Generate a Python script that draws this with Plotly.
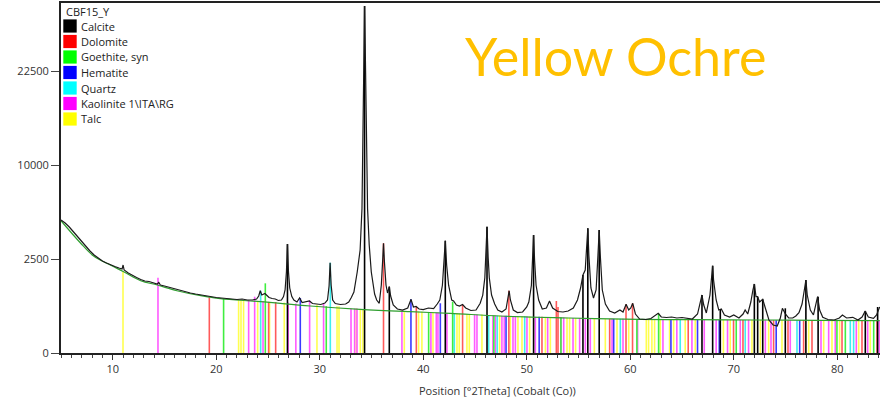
import numpy as np
import plotly.graph_objects as go

# ---------------- data (2theta in degrees, intensity in counts) ----------------
PATTERN = [(5.0,5005),(5.4,4781),(5.8,4492),(6.2,4142),(6.6,3807),(7.0,3486),(7.4,3209),(7.8,2944),
(8.2,2717),(8.6,2553),(9.0,2395),(9.4,2292),(9.8,2191),(10.2,2117),(10.6,2044),(10.9,1996),(11.0,2191),
(11.1,1949),(11.5,1811),(11.9,1699),(12.3,1613),(12.7,1528),(13.1,1467),(13.5,1446),(13.9,1386),(14.3,1347),
(14.45,1406),(14.6,1308),(15.0,1270),(15.5,1214),(16.0,1159),(16.5,1105),(17.0,1070),(17.5,1019),(18.0,985),
(18.5,952),(19.0,919),(19.5,887),(20.0,872),(20.5,856),(21.0,840),(21.5,825),(22.0,810),(22.5,825),(23.0,795),
(23.5,795),(23.9,825),(24.1,919),(24.25,1098),(24.4,952),(24.55,968),(24.7,1002),(24.85,952),(25.1,872),
(25.4,840),(25.7,825),(26.0,780),(26.3,795),(26.5,903),(26.65,1123),(26.78,1856),(26.88,3361),(26.98,1856),
(27.1,1195),(27.3,903),(27.5,795),(27.8,736),(28.05,856),(28.3,722),(28.6,736),(29.0,765),(29.3,693),
(29.7,679),(30.1,666),(30.5,707),(30.75,795),(30.9,1270),(31.0,2307),(31.1,1308),(31.25,795),(31.5,693),
(32.0,666),(32.5,679),(32.8,736),(33.05,870),(33.3,1050),(33.62,1856),(33.9,3000),(34.08,5900),(34.18,14500),
(34.27,27000),(34.33,34067),(34.39,27000),(34.5,14500),(34.62,5900),(34.78,3300),(34.98,1856),(35.3,985),
(35.5,795),(35.75,700),(35.95,1308),(36.08,2447),(36.16,3405),(36.25,2343),(36.4,1308),(36.55,1019),
(36.72,1244),(36.85,919),(37.1,652),(37.5,548),(38.0,523),(38.5,573),(38.82,816),(39.05,599),(39.3,612),
(39.6,548),(40.0,535),(40.5,573),(41.0,560),(41.35,679),(41.6,795),(41.85,1300),(42.0,2191),(42.13,3568),
(42.26,2191),(42.45,1300),(42.75,795),(42.93,765),(43.2,652),(43.5,625),(43.8,666),(44.1,573),(44.6,511),
(45.1,523),(45.5,700),(45.75,950),(45.95,1600),(46.05,2600),(46.16,4513),(46.27,2600),(46.38,1600),
(46.6,950),(46.9,680),(47.2,523),(47.6,476),(48.0,548),(48.2,856),(48.3,1098),(48.42,795),(48.7,523),
(49.1,464),(49.6,476),(50.0,600),(50.2,736),(50.45,1300),(50.58,2400),(50.66,3940),(50.76,2400),
(50.9,1300),(51.15,795),(51.5,548),(51.9,573),(52.2,765),(52.5,573),(53.0,487),(53.5,476),(54.0,499),
(54.5,573),(54.9,795),(55.2,1195),(55.43,1721),(55.65,1949),(55.8,3300),(55.9,4399),(56.0,2717),
(56.2,1195),(56.45,856),(56.7,1123),(56.88,2717),(57.0,4280),(57.12,2553),(57.3,1123),(57.6,679),
(58.0,499),(58.5,453),(59.0,523),(59.3,476),(59.6,671),(59.85,523),(60.05,573),(60.24,699),(60.5,430),
(60.9,327),(61.5,318),(62.0,337),(62.4,387),(62.7,446),(63.0,367),(63.5,357),(64.0,367),(64.5,347),
(65.0,357),(65.5,337),(66.0,327),(66.5,430),(66.8,795),(66.93,952),(67.1,652),(67.35,453),(67.7,952),
(67.88,1721),(67.96,2156),(68.05,1508),(68.3,795),(68.55,523),(68.8,548),(69.1,409),(69.6,367),(70.0,409),
(70.5,347),(70.9,430),(71.1,523),(71.35,430),(71.65,736),(71.85,1123),(71.99,1347),(72.15,897),(72.3,897),
(72.5,736),(72.8,816),(73.05,573),(73.4,308),(73.8,222),(74.2,206),(74.5,347),(74.7,565),(74.95,446),
(75.3,347),(75.7,347),(76.0,387),(76.3,459),(76.6,679),(76.85,1195),(76.97,1508),(77.1,952),(77.4,523),
(77.7,409),(77.95,707),(78.1,897),(78.3,523),(78.6,361),(79.1,318),(79.7,308),(80.2,347),(80.5,409),
(80.9,347),(81.5,361),(82.0,308),(82.4,367),(82.7,499),(83.0,367),(83.5,341),(83.8,409),(84.1,599)]

background_2theta = [5.0, 6.86, 8.15, 9.76, 11.05, 12.7, 14.3, 16.2, 18.5, 20.4, 24.26, 29.09,
                     33.9, 38.7, 42.6, 47.4, 54.0, 60.9, 66.0, 72.5, 78.0, 84.1]
background_counts = [4952, 3442, 2662, 2191, 1870, 1479, 1308, 1098, 929, 834, 745, 625,
                     540, 483, 446, 387, 347, 321, 314, 308, 302, 295]

# reference sticks: (2theta, top in counts)
CALCITE = [(26.88,3361),(34.33,34067),(36.72,1244),(42.13,3568),(46.16,4513),(50.66,3940),(55.43,1721),
(55.9,4399),(57.0,4280),(66.93,952),(67.96,2156),(68.7,548),(71.99,1347),(72.31,897),(72.8,816),
(74.98,565),(76.97,1508),(78.15,897),(82.71,499),(83.9,599)]
DOLOMITE = [(19.33,880),(25.06,740),(25.74,735),(36.16,3405),(39.33,610),(43.8,660),(48.27,1098),
(51.47,370),(52.86,765),(53.02,600),(58.01,330),(59.59,671),(60.22,699),(65.6,315),(69.98,310),
(70.89,310),(73.85,305),(75.24,305),(76.75,305),(77.56,305),(80.46,300),(82.39,300),(83.84,300)]
GOETHITE = [(20.71,830),(24.74,1374),(30.63,620),(40.52,470),(42.84,745),(46.82,400),(53.3,355),
(60.64,320),(62.74,446),(70.24,310),(79.97,300),(80.78,300),(83.52,300)]
HEMATITE = [(28.12,856),(38.81,816),(41.65,700),(48.0,395),(51.2,370),(58.4,330),(63.93,320),
(66.5,315),(68.6,310),(74.1,305),(76.37,305)]
QUARTZ = [(24.29,1098),(31.02,2307),(43.0,445),(46.32,400),(47.14,395),(49.8,380),(59.04,330),
(64.83,315),(71.11,310),(76.11,305),(81.26,300),(81.58,300)]
KAOLINITE = [(14.37,1604),(23.13,790),(23.71,897),(24.52,760),(26.95,720),(27.69,690),(29.02,780),
(30.37,700),(33.02,560),(33.37,560),(33.6,560),(37.94,505),(40.74,470),(41.26,465),(41.42,465),
(42.29,450),(44.96,420),(45.19,420),(46.73,400),(46.96,400),(47.6,395),(47.83,395),(48.67,380),
(48.9,380),(50.02,375),(50.83,370),(52.02,360),(53.31,355),(53.57,355),(54.47,345),(55.11,345),
(55.66,345),(56.14,335),(58.24,330),(59.3,330),(60.71,320),(63.16,315),(64.5,315),(65.96,315),
(67.15,310),(68.3,310),(69.4,310),(70.63,310),(71.43,310),(73.05,305),(73.6,305),(75.46,305),
(78.43,300),(79.17,300),(79.81,300),(81.84,300),(82.94,300),(84.05,300)]
TALC = [(10.99,1870),(22.16,790),(22.39,790),(22.64,790),(24.0,760),(25.15,740),(26.57,720),
(29.73,660),(31.67,620),(31.86,620),(33.53,560),(33.92,550),(34.17,550),(38.17,490),(39.55,485),
(39.87,480),(40.94,470),(43.26,445),(43.48,445),(44.22,430),(44.45,430),(45.67,420),(47.38,395),
(48.41,380),(49.15,380),(49.54,380),(50.28,375),(51.8,360),(52.28,360),(53.89,350),(54.14,350),
(54.72,345),(56.53,335),(57.59,330),(58.72,330),(59.85,325),(61.55,315),(61.77,315),(62.09,315),
(62.35,315),(62.9,315),(63.8,315),(64.19,315),(65.31,315),(66.28,312),(69.0,310),(69.66,310),
(71.76,310),(72.57,308),(73.37,305),(74.66,305),(77.24,305),(78.69,300),(79.49,300),(80.23,300),
(82.07,300),(83.19,300)]

phase_names = ["Calcite", "Dolomite", "Goethite, syn", "Hematite", "Quartz", "Kaolinite 1\\ITA\\RG", "Talc"]
phase_colors = ["#000000", "#ff0000", "#00ff00", "#0000ff", "#00ffff", "#ff00ff", "#ffff00"]
stick_colors = ["#000000", "#ff5a5a", "#40ee40", "#3a3aff", "#40eeee", "#ff5aff", "#ffff50"]
phase_sticks = [CALCITE, DOLOMITE, GOETHITE, HEMATITE, QUARTZ, KAOLINITE, TALC]

y_tick_counts = [0, 2500, 10000, 22500]
sample_name = "CBF15_Y"
x_title = "Position [°2Theta] (Cobalt (Co))"
big_title = "Yellow Ochre"

# ---------------- figure ----------------
W, H = 880, 398
L, R, T, B = 61, 0, 3, 45
pw, ph = W - L - R, H - T - B

def px(x):
    return (x - L) / pw

def py(y):
    return (H - B - y) / ph

fig = go.Figure()

# sticks (drawn first, talc at back)
for name, col, sticks in reversed(list(zip(phase_names, stick_colors, phase_sticks))):
    xs, ys = [], []
    for pos, top in sticks:
        xs += [pos, pos, None]
        ys += [0, float(np.sqrt(top)), None]
    fig.add_trace(go.Scatter(x=xs, y=ys, mode="lines", line=dict(color=col, width=1.6),
                             hoverinfo="skip", showlegend=False))

fig.add_trace(go.Scatter(x=background_2theta, y=np.sqrt(background_counts), mode="lines",
                         line=dict(color="#2f9e2f", width=1.2, shape="spline"), showlegend=False))

pat_x = [p[0] for p in PATTERN]
pat_y = np.sqrt([p[1] for p in PATTERN])
fig.add_trace(go.Scatter(x=pat_x, y=pat_y, mode="lines",
                         line=dict(color="#1a1a1a", width=1.2), showlegend=False))

font = "Open Sans, DejaVu Sans, sans-serif"
fig.update_layout(
    width=W, height=H, margin=dict(l=L, r=R, t=T, b=B),
    paper_bgcolor="white", plot_bgcolor="white",
    font=dict(family=font, size=11, color="#333333"),
    xaxis=dict(range=[5, 84.13], showgrid=False, zeroline=False,
               showline=True, linecolor="#222222", linewidth=2, mirror=True,
               ticks="outside", ticklen=5, tickwidth=1, tickcolor="#333333",
               tick0=0, dtick=10,
               minor=dict(ticks="outside", ticklen=3, dtick=1, tick0=0, tickcolor="#444444"),
               tickfont=dict(size=11, color="#333333")),
    yaxis=dict(range=[0, 186.2], showgrid=False, zeroline=False,
               showline=True, linecolor="#222222", linewidth=2,
               ticks="outside", ticklen=8, tickcolor="#444444",
               tickvals=[np.sqrt(v) for v in y_tick_counts],
               ticktext=[str(v) for v in y_tick_counts],
               tickfont=dict(size=11, color="#333333")),
)

shapes = []
annotations = []
# legend block
annotations.append(dict(x=px(64), y=py(11), xref="paper", yref="paper", text=sample_name,
                        showarrow=False, xanchor="left", yanchor="middle",
                        font=dict(size=11, color="#222222", family=font)))
row0, pitch = 26.0, 15.5
for i, (name, col) in enumerate(zip(phase_names, phase_colors)):
    cy = row0 + i * pitch
    shapes.append(dict(type="rect", xref="paper", yref="paper",
                       x0=px(63.3), x1=px(76.7), y0=py(cy + 6.6), y1=py(cy - 6.6),
                       fillcolor=col, line=dict(width=0)))
    annotations.append(dict(x=px(79), y=py(cy), xref="paper", yref="paper", text=name,
                            showarrow=False, xanchor="left", yanchor="middle",
                            font=dict(size=11, color="#222222", family=font)))

annotations.append(dict(x=px(497), y=py(390), xref="paper", yref="paper",
                        yanchor="middle", text=x_title, showarrow=False,
                        font=dict(size=11, color="#333333", family=font)))
annotations.append(dict(x=px(615), y=py(56), xref="paper", yref="paper", text=big_title,
                        showarrow=False, xanchor="center", yanchor="middle",
                        font=dict(size=52, color="#FFC000", family="Lato, Open Sans, sans-serif")))

fig.update_layout(shapes=shapes, annotations=annotations)
fig.write_html("out.html", config={"displayModeBar": False},
               post_script="document.body.style.margin='0';document.body.style.padding='0';"
                           "document.body.style.overflow='hidden';")
